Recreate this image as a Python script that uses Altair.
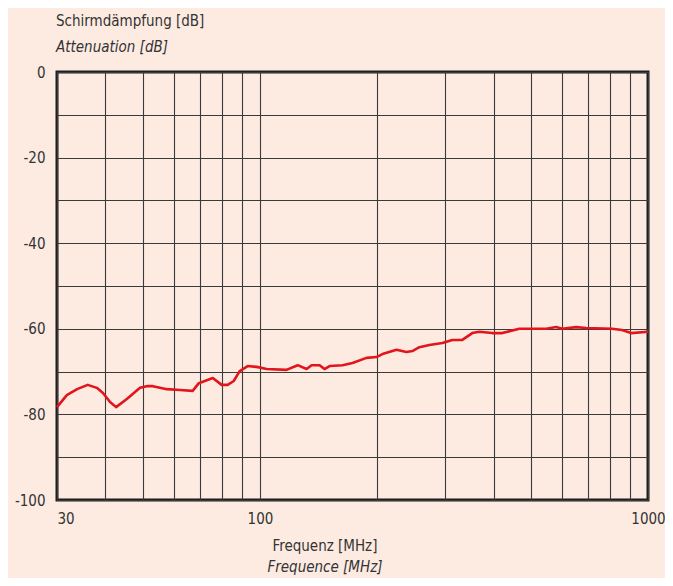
import altair as alt
import pandas as pd

# Frequency [MHz] and attenuation [dB]
freq = [30, 31.8, 33.8, 36.0, 38.0, 39.4, 41.1, 42.6, 45.4, 49.1,
        51.1, 53.0, 57.6, 62.2, 67.1, 69.6, 75.6, 79.7, 82.6, 85.6,
        88.7, 93.0, 98.1, 104.1, 117.1, 125.1, 131.9, 135.9, 142.5, 146.7,
        151.2, 163.3, 173.2, 188.2, 199.7, 206.9, 224.8, 238.5, 247.1, 257.6,
        273.3, 295.2, 313.2, 332.3, 352.6, 367.5, 396.8, 421.1, 465.8, 503.0,
        546.6, 580.0, 601.0, 652.9, 692.7, 808.1, 857.4, 904.3, 1000]
atten = [-78.3, -75.5, -74.1, -73.1, -73.8, -75.0, -77.1, -78.3, -76.4, -73.8,
         -73.4, -73.4, -74.1, -74.3, -74.5, -72.7, -71.5, -73.1, -73.1, -72.2,
         -69.9, -68.7, -68.9, -69.4, -69.6, -68.5, -69.4, -68.5, -68.5, -69.4,
         -68.7, -68.5, -68.0, -66.8, -66.6, -65.9, -64.9, -65.4, -65.2, -64.3,
         -63.8, -63.3, -62.6, -62.6, -61.0, -60.7, -61.0, -61.0, -60.0, -60.0,
         -60.0, -59.6, -60.0, -59.6, -59.8, -60.0, -60.3, -61.0, -60.7]

x_grid = [30, 40, 50, 60, 70, 80, 90, 100, 200, 300, 400, 500, 600, 700, 800, 900, 1000]
x_labels = [30, 100, 1000]
y_grid = [0, -10, -20, -30, -40, -50, -60, -70, -80, -90, -100]

title_de_y = "Schirmdämpfung [dB]"
title_en_y = "Attenuation [dB]"
title_de_x = "Frequenz [MHz]"
title_en_x = "Frequence [MHz]"

FONT = "DejaVu Sans Condensed, Liberation Sans Narrow, Liberation Sans, sans-serif"
TXT = "#333333"
FS = 15
W, H = 591, 428

df = pd.DataFrame({"f": freq, "a": atten})
one = pd.DataFrame({"k": [0]})

line = alt.Chart(df).mark_line(color="#e3141b", strokeWidth=2.6, strokeJoin="round").encode(
    x=alt.X("f:Q", scale=alt.Scale(type="log", domain=[30, 1000], nice=False),
            axis=alt.Axis(values=x_grid, title=None, ticks=False, domain=False,
                          grid=True, gridColor="#3a3a3a", gridWidth=1.1,
                          labelExpr="indexof([30,100,1000], datum.value) >= 0 ? '' + datum.value : ''",
                          labelOverlap=False, labelFont=FONT, labelFontSize=FS,
                          labelColor=TXT, labelPadding=11,
                          labelAlign={"condition": {"test": "datum.value == 30", "value": "left"}, "value": "center"})),
    y=alt.Y("a:Q", scale=alt.Scale(domain=[-100, 0], nice=False),
            axis=alt.Axis(values=y_grid, title=None, ticks=False, domain=False,
                          grid=True, gridColor="#3a3a3a", gridWidth=1.1,
                          labelExpr="datum.value % 20 == 0 ? '' + datum.value : ''",
                          labelOverlap=False, labelFont=FONT, labelFontSize=FS,
                          labelColor=TXT, labelPadding=12)),
)

def label(text, x, y, italic=False, align="left"):
    return alt.Chart(one).mark_text(
        text=text, font=FONT, fontSize=FS, color=TXT, align=align, baseline="alphabetic",
        fontStyle="italic" if italic else "normal"
    ).encode(x=alt.value(x), y=alt.value(y))

chart = alt.layer(
    line,
    label(title_de_y, -1, -46),
    label(title_en_y, -1, -20, italic=True),
    label(title_de_x, 268, 479, align="center"),
    label(title_en_x, 268, 500, italic=True, align="center"),
).properties(
    width=W, height=H,
    background="#fdebe2",
    padding={"left": 49, "top": 64, "right": 17, "bottom": 78},
    autosize=alt.AutoSizeParams(type="none"),
).configure_view(stroke="#1e1e1e", strokeWidth=3)

chart.save("out.html", embed_options={"renderer": "svg", "actions": False})
